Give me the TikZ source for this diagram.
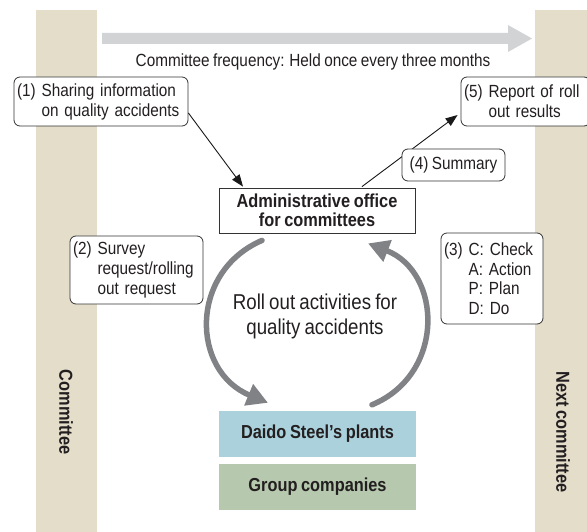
\documentclass[tikz,border=0pt]{standalone}
\usepackage{fontspec}
\setmainfont{Liberation Sans}[FakeStretch=0.87,WordSpace=0.8]
\usetikzlibrary{arrows.meta}
\definecolor{colbg}{HTML}{E3DDCA}
\definecolor{toparrow}{HTML}{D1D3D4}
\definecolor{cyc}{HTML}{808285}
\definecolor{plantc}{HTML}{ABD2DC}
\definecolor{groupc}{HTML}{B6C8AD}
\definecolor{linec}{HTML}{333333}
\definecolor{txt}{HTML}{231F20}
\newcommand\lblfont{\fontsize{17.6}{20}\selectfont}
\newcommand\boldlbl{\fontsize{18.8}{19.5}\selectfont\bfseries}
\newcommand\bigtxt{\fontsize{21.5}{25}\selectfont}
\begin{document}
\begin{tikzpicture}[x=1pt,y=-1pt,
  lbl/.style={draw=linec, line width=0.8pt, rounded corners=6pt, fill=white,
    inner xsep=3pt, inner ysep=0pt, align=left, font=\lblfont, text=txt},
  mainbox/.style={draw=linec, line width=0.8pt, fill=white, inner sep=0pt,
    minimum width=196pt, minimum height=45pt, align=center, font=\boldlbl, text=txt},
  colbox/.style={inner sep=0pt, minimum width=197pt, minimum height=46pt, font=\boldlbl, text=txt},
  blk/.style={draw=black!90, line width=0.9pt, -{Triangle[length=12pt,width=9pt]}},
  cycarrow/.style={draw=cyc, line width=5.5pt, line cap=round, -{Triangle[length=21pt,width=22pt]}}
]
\useasboundingbox (0,0) rectangle (587,532);
% side columns
\fill[colbg] (36,10) rectangle (97,532);
\fill[colbg] (535,10) rectangle (592,532);
% top arrow
\fill[toparrow] (102,33) -- (508,33) -- (508,25) -- (532,38.5) -- (508,52) -- (508,44) -- (102,44) -- cycle;
\node[font=\lblfont, text=txt] (freq) at (313,62) {Committee frequency: Held once every three months};
% column labels
\node[font=\boldlbl, rotate=-90, text=txt] (comm) at (66,412) {Committee};
\node[font=\boldlbl, rotate=-90, text=txt] (next) at (563,432) {Next committee};
% main boxes
\node[mainbox] (admin) at (317,210.5) {Administrative office\\for committees};
\node[colbox, fill=plantc] (daido) at (317.5,434) {Daido Steel’s plants};
\node[colbox, fill=groupc] (group) at (317.5,487) {Group companies};
% label boxes
\node[lbl, text width=168pt, minimum height=49pt] (b1) at (101,101.5)
  {(1) Sharing information\\\hphantom{(1) }on quality accidents};
\node[lbl, text width=123pt, minimum height=49pt] (b5) at (525.5,101.5)
  {(5) Report of roll\\\hphantom{(5) }out results};
% black arrows
\draw[blk] ([yshift=-11.5pt]b1.east) -- ([xshift=-74pt,yshift=1pt]admin.north);
\draw[blk] ([xshift=45pt,yshift=1pt]admin.north) -- ([xshift=-3pt,yshift=-13.5pt]b5.west);
\node[lbl, align=center, inner xsep=0pt, minimum width=103pt, minimum height=32pt] (b4) at (453.5,165) {(4) Summary};
\node[lbl, text width=127pt, minimum height=68pt] (b2) at (136.5,270)
  {(2) Survey\\\hphantom{(2) }request/rolling\\\hphantom{(2) }out request};
\node[lbl, text width=96pt, minimum height=91pt, font=\fontsize{17.6}{19.5}\selectfont] (b3) at (492,278.5)
  {(3) C: Check\\\hphantom{(3) }A: Action\\\hphantom{(3) }P: Plan\\\hphantom{(3) }D: Do};
% cycle
\node[font=\bigtxt, align=center, text=txt] (roll) at (315,316) {Roll out activities for\\quality accidents};
\draw[cycarrow] ([xshift=-55pt,yshift=-7pt]admin.south) .. controls (189,272) and (191,371) .. ([xshift=-49.5pt,yshift=8pt]daido.north);
\draw[cycarrow] ([xshift=54.5pt,yshift=6pt]daido.north) .. controls (446,374) and (442,272) .. ([xshift=51pt,yshift=-10pt]admin.south);
\end{tikzpicture}
\end{document}
